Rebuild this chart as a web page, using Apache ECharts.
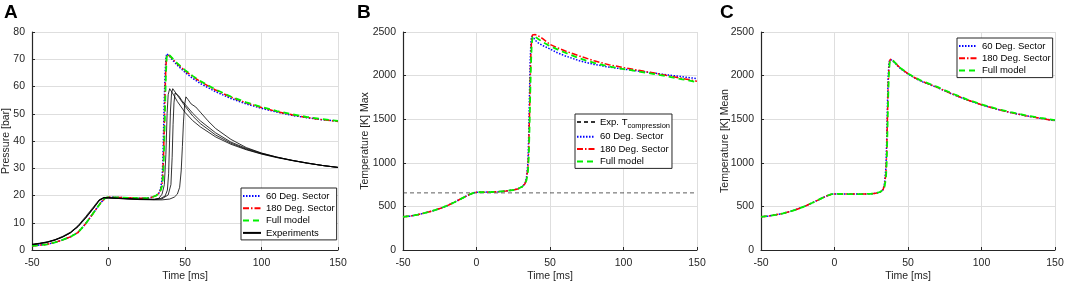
<!DOCTYPE html>
<html>
<head>
<meta charset="utf-8">
<script src="https://cdn.jsdelivr.net/npm/echarts@6/dist/echarts.min.js"></script>
<style>
  html, body { margin: 0; padding: 0; background: #fff; }
  #main { width: 1065px; height: 285px; }
</style>
</head>
<body>
<div id="main"></div>
<script>
// shared time base of the simulations [ms]
var tSim = [-50,-45,-40,-35,-30,-25,-20,-15,-10,-5,-2,0,5,10,15,20,25,28,31,33,34,35,35.5,36,36.5,37,37.5,38,38.5,39,40,42,45,50,55,60,70,80,90,100,110,120,130,140,150];

// A - pressure [bar]
var pSector60 = [1.5,1.8,2.1,2.8,3.7,4.8,6.4,9.6,13.5,17.4,19.1,19.4,19.3,19.2,19.1,19.0,19.0,19.3,19.9,20.9,22.5,26,32,44,56,65,70,72,72,71.6,71.0,69.6,67.8,65.2,63.0,61.1,58.1,55.6,53.6,52.0,50.6,49.4,48.5,47.8,47.3];
var pSector180 = [1.5,1.8,2.1,2.8,3.7,4.8,6.4,9.6,13.5,17.4,19.1,19.4,19.3,19.2,19.1,19.0,19.0,19.3,19.9,20.8,22.0,24,28,35,46,58,67,71.5,72.2,72,71.3,70.0,68.3,65.8,63.7,61.8,58.7,56.1,54.0,52.3,50.8,49.6,48.6,47.8,47.2];
var pFull = [1.5,1.8,2.1,2.8,3.7,4.8,6.4,9.6,13.5,17.4,19.1,19.4,19.3,19.2,19.1,19.0,19.0,19.3,19.9,20.8,21.8,23.5,26,31,41,53,64,70.5,72,72,71.4,70.2,68.5,66.0,63.9,62.0,58.9,56.3,54.2,52.5,51.0,49.8,48.8,48.0,47.4];

var tExp1 = [-50,-45,-40,-35,-30,-25,-20,-15,-10,-6,-3,0,10,20,30,33,35,36.5,37.5,38.3,39,40,41,43,45,50,55,60,70,80,90,100,110,120,130,140,150];
var pExp1 = [2.0,2.4,2.9,3.7,4.8,6.3,8.6,11.8,15.3,18.3,19.2,19.1,18.9,18.6,18.6,19.0,20.5,24,35,50,57,59.2,58.6,56.5,54.5,50.5,47.5,45.2,41.5,38.8,36.8,35.2,33.9,32.8,31.8,31.0,30.3];
var tExp2 = [-50,-45,-40,-35,-30,-25,-20,-15,-10,-6,-3,0,10,20,30,34,37,38.5,39.3,39.9,40.5,41.2,42,43,45,50,55,60,70,80,90,100,110,120,130,140,150];
var pExp2 = [2.1,2.5,3.0,3.8,5.0,6.5,8.9,12.2,15.7,18.5,19.3,19.2,18.9,18.7,18.6,18.9,19.8,22,28,40,51,57.5,59.2,58.6,56.8,52.8,49.2,46.4,42.2,39.2,37.0,35.3,34.0,32.9,31.9,31.0,30.3];
var tExp3 = [-50,-45,-40,-35,-30,-25,-20,-15,-10,-6,-3,0,10,20,30,35,39,40.8,41.6,42.2,42.8,43.5,44.5,46,48,50,55,60,70,80,90,100,110,120,130,140,150];
var pExp3 = [1.9,2.3,2.8,3.6,4.7,6.2,8.5,11.6,15.1,18.1,19.1,19.1,18.8,18.6,18.5,18.8,20.2,24,34,46,54,57.6,57.9,56.5,54.8,53.5,50.2,47.4,43.0,39.6,37.3,35.5,34.1,32.9,31.9,31.0,30.3];
var tExp4 = [-50,-45,-40,-35,-30,-25,-20,-15,-10,-6,-3,0,10,20,30,35,40,43,45,46.5,47.5,48.3,49,49.8,50.6,52,54,57,60,65,70,80,90,100,110,120,130,140,150];
var pExp4 = [2.0,2.4,2.9,3.7,4.8,6.3,8.6,11.8,15.3,18.3,19.2,19.1,18.8,18.5,18.4,18.4,18.7,19.4,20.5,23,29,38,47,53.5,56.2,55.2,53.6,52.5,50.6,47.4,44.6,40.6,37.6,35.6,34.1,32.9,31.9,31.0,30.3];

// B - max temperature [K]
var tCompT = [-50,150];
var tCompV = [655,655];
var tMax60 = [380,390,405,425,448,475,508,548,592,635,655,662,663,665,669,676,688,700,725,762,830,1000,1300,1750,2150,2380,2450,2462,2448,2430,2405,2375,2345,2305,2262,2228,2170,2128,2098,2075,2052,2030,2008,1987,1965];
var tMax180 = [380,390,405,425,448,475,508,548,592,635,655,662,663,665,669,676,688,700,725,760,810,950,1150,1500,1900,2250,2420,2465,2478,2476,2470,2455,2425,2358,2320,2285,2225,2170,2125,2092,2062,2032,2000,1968,1935];
var tMaxFull = [380,390,405,425,448,475,508,548,592,635,655,662,663,665,669,676,688,700,725,760,800,900,1050,1350,1750,2100,2330,2430,2455,2455,2445,2420,2385,2338,2300,2265,2198,2145,2105,2075,2048,2020,1990,1958,1925];

// C - mean temperature [K]
var tMean60 = [380,390,403,420,443,470,503,542,583,622,640,643,642,641,641,642,645,650,665,692,760,950,1250,1650,1980,2130,2180,2190,2185,2178,2163,2128,2078,2018,1968,1928,1862,1788,1722,1665,1616,1575,1540,1510,1485];
var tMean180 = [380,390,403,420,443,470,503,542,583,622,640,643,642,641,641,642,645,650,665,690,740,880,1120,1500,1870,2080,2165,2188,2190,2183,2168,2132,2082,2022,1972,1931,1865,1790,1724,1666,1617,1576,1540,1510,1483];
var tMeanFull = [380,390,403,420,443,470,503,542,583,622,640,643,642,641,641,642,645,650,665,690,725,820,1000,1350,1750,2020,2140,2180,2190,2185,2170,2135,2085,2025,1975,1935,1870,1795,1728,1670,1620,1580,1545,1515,1490];

var font = 'Liberation Sans, Arial, Helvetica, sans-serif';
var ink = '#262626';

var st60 = { color: '#0000ff', width: 1.5, type: [1.5, 1.5] };
var st180 = { color: '#ff0000', width: 1.5, type: [6, 2, 1.5, 2] };
var stFull = { color: '#00f000', width: 1.8, type: [6, 4] };
var stExp = { color: '#000000', width: 0.8, type: 'solid' };
var stComp = { color: '#333333', width: 0.8, type: [4, 3] };

function zip(t, v) {
  return t.map(function (x, i) { return [x, v[i]]; });
}

function line(name, t, v, gi, st) {
  return {
    name: name, type: 'line', xAxisIndex: gi, yAxisIndex: gi,
    data: zip(t, v), symbol: 'none', color: st.color,
    lineStyle: st, emphasis: { disabled: true }, animation: false
  };
}

function xAxis(gi) {
  return {
    type: 'value', gridIndex: gi, min: -50, max: 150, interval: 50,
    name: 'Time [ms]', nameLocation: 'middle', nameGap: 21, nameMoveOverlap: false,
    nameTextStyle: { color: ink, fontSize: 10.5, fontFamily: font },
    axisLine: { onZero: false, lineStyle: { color: ink, width: 1 } },
    axisTick: { inside: true, length: 3, lineStyle: { color: ink } },
    axisLabel: { color: ink, fontSize: 10.5, fontFamily: font, margin: 8 },
    splitLine: { lineStyle: { color: '#dedede' } }
  };
}

function yAxis(gi, name, max, interval, gap) {
  return {
    type: 'value', gridIndex: gi, min: 0, max: max, interval: interval,
    name: name, nameLocation: 'middle', nameGap: gap, nameRotate: 90, nameMoveOverlap: false,
    nameTextStyle: { color: ink, fontSize: 10.5, fontFamily: font },
    axisLine: { show: true, onZero: false, lineStyle: { color: ink, width: 1.2 } },
    axisTick: { show: true, inside: true, length: 3, lineStyle: { color: ink } },
    axisLabel: {
      color: ink, fontSize: 10.5, fontFamily: font, margin: 7,
      formatter: function (v) { return String(v); }
    },
    splitLine: { lineStyle: { color: '#dedede' } }
  };
}

function legend(names, left, top) {
  return {
    data: names, left: left, top: top, orient: 'vertical',
    itemWidth: 18, itemHeight: 10, itemGap: 2.3,
    padding: [3, 2, 2, 1], borderColor: ink, borderWidth: 1,
    backgroundColor: '#fff', selectedMode: false,
    itemStyle: { opacity: 0 },
    textStyle: {
      color: '#000', fontSize: 9.5, fontFamily: font,
      rich: { sub: { fontSize: 7.5, fontFamily: font, color: '#000', padding: [7, 0, 0, 0] } }
    },
    formatter: function (n) {
      return n === 'Exp. T compression' ? 'Exp. T{sub|compression}' : n;
    }
  };
}

var panelTitle = function (txt, left) {
  return {
    text: txt, left: left, top: 3, padding: 0,
    textStyle: { fontSize: 19, fontWeight: 'bold', color: '#000', fontFamily: font }
  };
};

var chart = echarts.init(document.getElementById('main'));
chart.setOption({
  backgroundColor: '#fff',
  animation: false,
  title: [panelTitle('A', 4), panelTitle('B', 357), panelTitle('C', 720)],
  grid: [
    { left: 32, top: 32, width: 306, height: 218, outerBoundsMode: 'none' },
    { left: 403, top: 32, width: 294, height: 218, outerBoundsMode: 'none' },
    { left: 761, top: 32, width: 294, height: 218, outerBoundsMode: 'none' }
  ],
  xAxis: [xAxis(0), xAxis(1), xAxis(2)],
  yAxis: [
    yAxis(0, 'Pressure [bar]', 80, 10, 20),
    yAxis(1, 'Temperature [K] Max', 2500, 500, 32),
    yAxis(2, 'Temperature [K] Mean', 2500, 500, 30)
  ],
  legend: [
    legend(['60 Deg. Sector', '180 Deg. Sector', 'Full model', 'Experiments'], 241, 188),
    legend(['Exp. T compression', '60 Deg. Sector', '180 Deg. Sector', 'Full model'], 575, 114),
    legend(['60 Deg. Sector', '180 Deg. Sector', 'Full model'], 957, 38)
  ],
  series: [
    line('60 Deg. Sector', tSim, pSector60, 0, st60),
    line('180 Deg. Sector', tSim, pSector180, 0, st180),
    line('Full model', tSim, pFull, 0, stFull),
    line('Experiments', tExp1, pExp1, 0, stExp),
    line('Experiments', tExp2, pExp2, 0, stExp),
    line('Experiments', tExp3, pExp3, 0, stExp),
    line('Experiments', tExp4, pExp4, 0, stExp),

    line('Exp. T compression', tCompT, tCompV, 1, stComp),
    line('60 Deg. Sector', tSim, tMax60, 1, st60),
    line('180 Deg. Sector', tSim, tMax180, 1, st180),
    line('Full model', tSim, tMaxFull, 1, stFull),

    line('60 Deg. Sector', tSim, tMean60, 2, st60),
    line('180 Deg. Sector', tSim, tMean180, 2, st180),
    line('Full model', tSim, tMeanFull, 2, stFull)
  ]
});
</script>
</body>
</html>
